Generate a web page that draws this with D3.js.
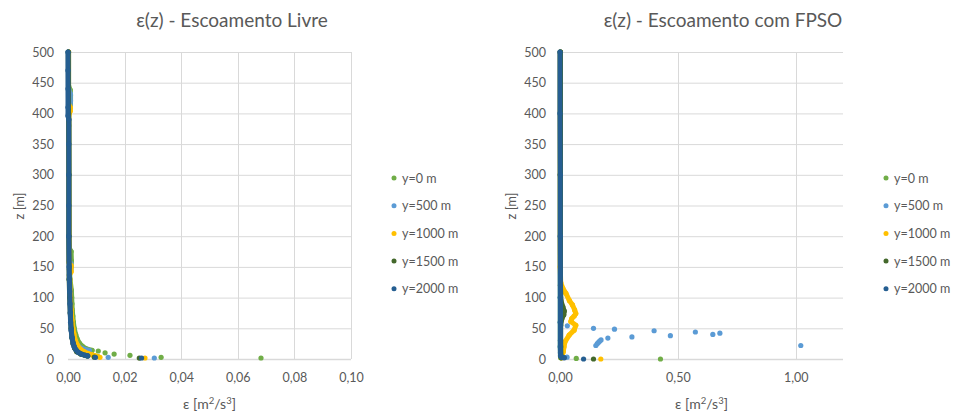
<!DOCTYPE html>
<html>
<head>
<meta charset="utf-8">
<script src="https://cdn.jsdelivr.net/npm/d3@7"></script>
<style>
  html, body { margin: 0; padding: 0; background: #ffffff; }
  svg { display: block; font-family: Lato, "Open Sans", sans-serif; }
</style>
</head>
<body>
<svg id="chart" width="954" height="417"></svg>
<script>
// ---- Series and ticks ----
const seriesLabels = ["y=0 m", "y=500 m", "y=1000 m", "y=1500 m", "y=2000 m"];
const zTicks = [0, 50, 100, 150, 200, 250, 300, 350, 400, 450, 500];
const xTicksLivre = [0, 0.02, 0.04, 0.06, 0.08, 0.10];
const xTicksFpso = [0, 0.5, 1.0];

// ---- Escoamento Livre: continuous profiles (z [m], ε [m²/s³]) ----
const livreZ0   = [500, 445, 438, 430, 420, 410, 402, 380, 300, 200, 180, 175, 160, 150, 146, 130, 112, 100, 90, 80, 70, 60, 50, 40, 32, 26, 21, 17, 14];
const livreEps0 = [0.0002, 0.0002, 0.0008, 0.0009, 0.0009, 0.0008, 0.0003, 0.0003, 0.0003, 0.0004, 0.0005, 0.0011, 0.0012, 0.0011, 0.0005, 0.0007, 0.0012, 0.0013, 0.0014, 0.0015, 0.0017, 0.0019, 0.0022, 0.0027, 0.0033, 0.0040, 0.0050, 0.0063, 0.0085];
const livreZ1   = [500, 440, 432, 420, 410, 400, 300, 200, 160, 155, 145, 138, 130, 100, 80, 60, 45, 35, 27, 21, 17, 14];
const livreEps1 = [0.0002, 0.0002, 0.0008, 0.0008, 0.0008, 0.0003, 0.0003, 0.0003, 0.0004, 0.0010, 0.0010, 0.0005, 0.0005, 0.0007, 0.0009, 0.0012, 0.0016, 0.0020, 0.0027, 0.0036, 0.0050, 0.0075];
const livreZ2   = [500, 415, 410, 404, 398, 300, 200, 157, 152, 142, 136, 130, 100, 80, 63, 50, 40, 30, 22, 16, 12, 9, 7, 5, 4];
const livreEps2 = [0.0002, 0.0002, 0.0008, 0.0008, 0.0003, 0.0003, 0.0004, 0.0004, 0.0011, 0.0011, 0.0005, 0.0006, 0.0008, 0.0011, 0.0014, 0.0017, 0.0021, 0.0026, 0.0034, 0.0044, 0.0056, 0.0070, 0.0083, 0.0097, 0.0106];
const livreZ3   = [500, 400, 300, 200, 130, 100, 75, 50, 35, 25, 18, 12, 8, 6, 5];
const livreEps3 = [0.0001, 0.0002, 0.0003, 0.0003, 0.0004, 0.0006, 0.0008, 0.0011, 0.0014, 0.0018, 0.0023, 0.0031, 0.0045, 0.0060, 0.0068];
const livreZ4   = [500, 470, 440, 410, 396, 390, 350, 300, 250, 200, 150, 129, 110, 90, 75, 60, 47, 35, 26, 20, 15, 11, 8, 6, 5];
const livreEps4 = [0.0000, 0.0000, 0.0000, 0.0000, 0.0000, 0.0003, 0.0003, 0.0003, 0.0003, 0.0003, 0.0004, 0.0005, 0.0006, 0.0007, 0.0008, 0.0009, 0.0011, 0.0014, 0.0018, 0.0022, 0.0028, 0.0036, 0.0048, 0.0062, 0.0070];

// ---- Escoamento Livre: isolated near-wall cells ----
const livreDotZ0   = [13, 10, 8, 6, 2.8, 1.6];
const livreDotEps0 = [0.0107, 0.0131, 0.0163, 0.0219, 0.0329, 0.0682];
const livreDotZ1   = [2.8, 1.6];
const livreDotEps1 = [0.0142, 0.0305];
const livreDotZ2   = [2.8, 1.6];
const livreDotEps2 = [0.0113, 0.0272];
const livreDotZ3   = [3, 1.5];
const livreDotEps3 = [0.0093, 0.0252];
const livreDotZ4   = [2.8, 1.6];
const livreDotEps4 = [0.0097, 0.0260];

// ---- Escoamento com FPSO: continuous profiles ----
const fpsoZ0   = [500, 300, 100, 60, 20, 5, 2];
const fpsoEps0 = [0.001, 0.001, 0.001, 0.001, 0.001, 0.002, 0.003];
const fpsoZ1   = [500, 300, 100, 60, 20, 5];
const fpsoEps1 = [0.001, 0.001, 0.001, 0.001, 0.001, 0.002];
const fpsoZ2   = [500, 300, 150, 125, 115, 107, 95, 88, 80, 74, 70, 66, 61, 55, 47, 39, 28, 20, 12, 4, 2];
const fpsoEps2 = [0.001, 0.001, 0.001, 0.003, 0.012, 0.025, 0.040, 0.053, 0.062, 0.067, 0.060, 0.050, 0.046, 0.067, 0.060, 0.039, 0.021, 0.017, 0.014, 0.008, 0.006];
const fpsoZ3   = [500, 120, 95, 85, 78, 72, 66, 55, 20, 5, 2];
const fpsoEps3 = [0.002, 0.002, 0.004, 0.012, 0.018, 0.016, 0.008, 0.003, 0.003, 0.004, 0.006];
const fpsoZ4   = [500, 400, 300, 200, 100, 60, 30, 10, 5, 3, 2];
const fpsoEps4 = [0.000, 0.000, 0.001, 0.001, 0.002, 0.002, 0.002, 0.002, 0.003, 0.008, 0.018];

// ---- Escoamento com FPSO: isolated cells ----
const fpsoDotZ0   = [1, 0];
const fpsoDotEps0 = [0.069, 0.426];
const fpsoDotZ1   = [54, 3, 50, 48.5, 22, 25, 27, 29, 31, 34, 36, 46, 38, 44, 40, 42, 22];
const fpsoDotEps1 = [0.031, 0.030, 0.142, 0.231, 0.152, 0.158, 0.163, 0.168, 0.174, 0.203, 0.305, 0.399, 0.468, 0.574, 0.648, 0.678, 1.021];
const fpsoDotZ2   = [0];
const fpsoDotEps2 = [0.173];
const fpsoDotZ3   = [0];
const fpsoDotEps3 = [0.142];
const fpsoDotZ4   = [0];
const fpsoDotEps4 = [0.100];

// ---- Styling ----
const seriesColors = ["#70AD47", "#5B9BD5", "#FFC000", "#43682B", "#255E91"];
const gridColor = "#D9D9D9";
const textColor = "#595959";

const zip = (zs, es) => zs.map((z, i) => ({ z: z, eps: es[i] }));

const livreSeries = [
  { profile: zip(livreZ0, livreEps0), dots: zip(livreDotZ0, livreDotEps0) },
  { profile: zip(livreZ1, livreEps1), dots: zip(livreDotZ1, livreDotEps1) },
  { profile: zip(livreZ2, livreEps2), dots: zip(livreDotZ2, livreDotEps2) },
  { profile: zip(livreZ3, livreEps3), dots: zip(livreDotZ3, livreDotEps3) },
  { profile: zip(livreZ4, livreEps4), dots: zip(livreDotZ4, livreDotEps4) }
];
const fpsoSeries = [
  { profile: zip(fpsoZ0, fpsoEps0), dots: zip(fpsoDotZ0, fpsoDotEps0) },
  { profile: zip(fpsoZ1, fpsoEps1), dots: zip(fpsoDotZ1, fpsoDotEps1) },
  { profile: zip(fpsoZ2, fpsoEps2), dots: zip(fpsoDotZ2, fpsoDotEps2) },
  { profile: zip(fpsoZ3, fpsoEps3), dots: zip(fpsoDotZ3, fpsoDotEps3) },
  { profile: zip(fpsoZ4, fpsoEps4), dots: zip(fpsoDotZ4, fpsoDotEps4) }
];

const ptBR = d3.formatLocale({ decimal: ",", thousands: ".", grouping: [3], currency: ["R$", ""] });
const fmt2 = ptBR.format(".2f");

const svg = d3.select("#chart");

function drawPanel(opts) {
  const g = svg.append("g");
  const x = d3.scaleLinear().domain([0, opts.xMax]).range([opts.left, opts.right]);
  const y = d3.scaleLinear().domain([0, 500]).range([359, 52]);

  // title
  g.append("text")
    .attr("x", opts.titleX).attr("y", 27)
    .attr("text-anchor", "middle")
    .attr("font-size", 19).attr("fill", textColor)
    .text(opts.title);

  // horizontal gridlines
  g.append("g").selectAll("line").data(zTicks.filter(t => t > 0)).join("line")
    .attr("x1", opts.left).attr("x2", opts.right)
    .attr("y1", d => y(d) + 0.5).attr("y2", d => y(d) + 0.5)
    .attr("stroke", gridColor).attr("stroke-width", 1);
  // vertical gridlines
  g.append("g").selectAll("line").data(opts.xTicks.filter(t => t > 0)).join("line")
    .attr("x1", d => Math.round(x(d)) + 0.5).attr("x2", d => Math.round(x(d)) + 0.5)
    .attr("y1", y(500)).attr("y2", y(0))
    .attr("stroke", gridColor).attr("stroke-width", 1);
  // horizontal axis line
  g.append("line")
    .attr("x1", opts.left).attr("x2", opts.right)
    .attr("y1", y(0) + 0.5).attr("y2", y(0) + 0.5)
    .attr("stroke", gridColor).attr("stroke-width", 1.3);

  // y tick labels
  const yAxis = d3.axisLeft(y).tickValues(zTicks).tickSize(0).tickPadding(14);
  const ya = g.append("g").attr("transform", `translate(${opts.left},0)`).call(yAxis);
  ya.select(".domain").remove();
  ya.selectAll("text").attr("font-family", "Lato, sans-serif").attr("font-size", 12.5).attr("fill", textColor);

  // x tick labels
  const xAxis = d3.axisBottom(x).tickValues(opts.xTicks).tickFormat(fmt2).tickSize(0).tickPadding(14);
  const xa = g.append("g").attr("transform", `translate(0,${y(0)})`).call(xAxis);
  xa.select(".domain").remove();
  xa.selectAll("text").attr("font-family", "Lato, sans-serif").attr("font-size", 12.5).attr("fill", textColor);

  // axis titles
  g.append("text")
    .attr("transform", `translate(${opts.yTitleX},206) rotate(-90)`)
    .attr("text-anchor", "middle").attr("font-size", 13).attr("fill", textColor)
    .text("z [m]");
  const xt = g.append("text")
    .attr("x", (opts.left + opts.right) / 2).attr("y", 409)
    .attr("text-anchor", "middle").attr("font-size", 14).attr("fill", textColor);
  xt.append("tspan").text("ε [m");
  xt.append("tspan").attr("font-size", 9.5).attr("dy", -5).text("2");
  xt.append("tspan").attr("dy", 5).text("/s");
  xt.append("tspan").attr("font-size", 9.5).attr("dy", -5).text("3");
  xt.append("tspan").attr("dy", 5).text("]");

  // series: dense profile drawn as a thick trace of cells, then isolated cells
  const line = d3.line().x(d => x(d.eps)).y(d => y(d.z));
  opts.series.forEach((s, i) => {
    const col = seriesColors[i];
    g.append("path").datum(s.profile)
      .attr("d", line)
      .attr("fill", "none").attr("stroke", col)
      .attr("stroke-width", 5).attr("stroke-linecap", "round").attr("stroke-linejoin", "round");
    g.append("g").selectAll("circle").data(s.profile.concat(s.dots)).join("circle")
      .attr("cx", d => x(d.eps)).attr("cy", d => y(d.z)).attr("r", 2.6)
      .attr("fill", col);
  });

  // legend
  const lg = g.append("g");
  seriesLabels.forEach((lab, i) => {
    const ly = 178 + i * 27.7;
    lg.append("circle").attr("cx", opts.legendX).attr("cy", ly).attr("r", 2.5).attr("fill", seriesColors[i]);
    lg.append("text").attr("x", opts.legendX + 8).attr("y", ly + 4.5)
      .attr("font-size", 12.5).attr("fill", textColor).text(lab);
  });
}

drawPanel({
  title: "ε(z) - Escoamento Livre", titleX: 232,
  left: 68, right: 351, xMax: 0.10, xTicks: xTicksLivre,
  yTitleX: 24, legendX: 394, series: livreSeries
});
drawPanel({
  title: "ε(z) - Escoamento com FPSO", titleX: 723,
  left: 560, right: 843, xMax: 1.2, xTicks: xTicksFpso,
  yTitleX: 516, legendX: 886, series: fpsoSeries
});
</script>
</body>
</html>
